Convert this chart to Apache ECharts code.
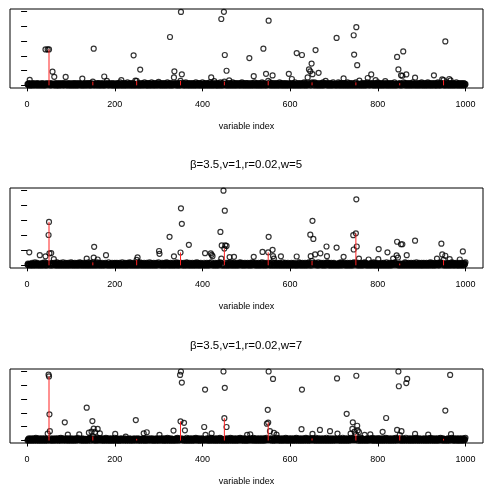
<!DOCTYPE html>
<html>
<head>
<meta charset="utf-8">
<script src="https://cdn.jsdelivr.net/npm/echarts@6.0.0/dist/echarts.min.js"></script>
<style>
html, body { margin: 0; padding: 0; background: #fff; }
#chart { width: 487px; height: 487px; }
</style>
</head>
<body>
<div id="chart"></div>
<script>
// near-zero band, one digit per variable index 1..1000 (value = digit * 0.04)
var base1 = [
  "2130412031 0214302113 2041320132 1024130213 0312420130 2140312031 1302413021 0413201324 1203142013 0213402130",
  "3120413021 4031203142 1302140231 0314201324 2031402132 1403121304 2130412023 1402130312 4021303142 1203140213",
  "0213041203 1520314021 3041203152 0214302130 4120318025 1302140312 0413201532 1042031402 1305213041 2031420136",
  "1402130412 0314021305 2130412031 4021503142 0312041302 1403120413 0521304120 3140213041 2031502143 0214031205",
  "2031402130 4120315021 3041207142 0130412031 5021403120 4130214031 2041302150 3140213042 1302140315 2041302140",
  "3140213041 2031402153 0214031204 1302150413 2031402130 4125031402 1304120314 0213052140 3120413021 4031206142",
  "0213402130 5120314021 3041203142 0513041203 1402130412 0314052130 4120314021 3041502314 0213041203 1402130512",
  "1302140315 2041302140 3120413021 5031402130 4120314021 3052130812 0314021304 1203150213 0412031402 1304120315",
  "4021304120 3140217304 1203140213 0412031502 1304120314 0213041253 1402130412 0314021305 2130412031 4021304125",
  "0314021304 1205314021 3041203142 0130415203 1402130412 0314025130 4120314021 3041203152 0214031204 1302140312"
].join(" ");
var base2 = [
  "1302413021 0412031503 2140213041 2031402135 0214031204 1302140312 0413021504 1203140213 0512031402 1304120315",
  "2041302140 3120413025 1403120413 0214031205 1302140312 0413021405 3120413021 4031203142 1302150231 0314201324",
  "3021403120 4130215031 2041302140 3125041302 1403120413 0214035120 4130214031 2041302150 3140213041 2031402135",
  "0413021403 1204130521 4031204130 2140312041 5302140312 0413021403 1205413021 4031204130 2140315204 1302140312",
  "1204130214 0312041305 2140312041 3021403125 0413021403 1204130214 0315204130 2140312041 3021453120 4130214031",
  "2140312041 3025140312 0413021403 1204153021 4031204130 2140312051 3021403120 4130214031 2051302140 3120413021",
  "3041203142 0130412035 1402130412 0314021304 1253041203 1402130412 0315021304 1203140213 0412531402 1304120314",
  "0312041302 1403152041 3021403120 4130214031 2041352140 3120413021 4031204135 2140312041 3021403125 0413021403",
  "1403120413 0214031205 1302140312 0413021453 1204130214 0312041302 1504130214 0312041302 1403120513 0214031204",
  "2031402130 4120314025 1304120314 0213041203 1452130412 0314021304 1203140251 3041203142 0130412031 4021304125"
].join(" ");
var base3 = [
  "0214031204 1302140315 2041302140 3120413021 4031205142 1302140231 0314201324 2031405132 1403121304 2130412023",
  "1402130312 4021353142 1203140213 0213041203 1452031402 1304120315 2041302140 3120413025 1403120413 0214031205",
  "2130412031 0214302113 2041720132 1024130213 0312420130 2140312031 1302413021 0413201324 1203142013 0213402130",
  "3041203142 0130412035 1402130412 0314021304 1253041203 1402130412 0315021304 1203140213 0412531402 1304120314",
  "1204130214 0312041305 2140312041 3021403125 0413021403 1204130214 0315204130 2140312041 3021453120 4130214031",
  "0312041302 1403152041 3021403120 4130214031 2041352140 3120413021 4031204135 2140312041 3021403125 0413021403",
  "2140312041 3025140312 0413021403 1204153021 4031204130 2140312051 3021403120 4130214031 2051302140 3120413021",
  "1403120413 0214031205 1302140312 0413021453 1204130214 0312041302 1504130214 0312041302 1403120513 0214031204",
  "0413021403 1204130521 4031204130 2140312041 5302140312 0413021403 1205413021 4031204130 2140315204 1302140312",
  "2031402130 4120314025 1304120314 0213041203 1452130412 0314021304 1203140251 3041203142 0130412031 4021304125"
].join(" ");

// points standing out of the band: [variable index, value]
var big1 = [[6,0.37],[42,2.44],[47,2.44],[50,2.44],[58,0.93],[62,0.58],[88,0.57],[126,0.46],[150,0.25],[152,2.49],
  [176,0.6],[182,0.3],[215,0.36],[243,2.04],[250,0.3],[258,1.07],[326,3.28],[335,0.54],[336,0.95],[350,0.3],
  [351,4.98],[353,0.75],[420,0.54],[443,4.5],[449,4.99],[450,0.25],[451,2.06],[455,0.99],[461,0.34],[507,1.85],
  [517,0.62],[539,2.49],[545,0.78],[550,0.3],[551,4.39],[560,0.67],[597,0.78],[604,0.43],[615,2.19],[627,2.06],
  [640,0.54],[643,1.08],[646,0.95],[649,1.48],[650,0.2],[651,0.76],[658,2.39],[665,0.85],[681,0.31],[706,3.22],
  [722,0.47],[745,3.4],[746,2.09],[750,0.2],[751,3.95],[753,1.37],[777,0.5],[785,0.74],[795,0.36],[844,1.93],
  [847,1.08],[850,0.15],[853,0.68],[856,0.65],[858,2.3],[865,0.74],[885,0.52],[928,0.68],[947,0.4],[950,0.35],
  [954,2.98],[963,0.43],[966,0.34]];
var big2 = [[5,0.87],[29,0.68],[42,0.6],[49,2.03],[50,2.91],[51,0.8],[55,0.82],[61,0.41],[136,0.45],[150,0.2],
  [152,0.52],[153,1.24],[161,0.39],[180,0.68],[250,0.36],[252,0.53],[301,0.96],[302,0.77],[325,1.91],[335,0.6],
  [350,0.86],[351,3.82],[353,2.78],[369,1.37],[406,0.81],[419,0.8],[421,0.7],[423,0.61],[441,2.24],[443,0.45],
  [444,1.33],[448,5.0],[450,1.12],[451,3.66],[452,1.34],[455,1.3],[462,0.55],[472,0.57],[517,0.57],[537,0.9],
  [550,0.87],[551,1.91],[560,1.04],[561,0.61],[563,0.45],[579,0.6],[615,0.59],[646,2.05],[647,0.61],[650,0.29],
  [651,2.98],[653,1.77],[657,0.73],[669,0.8],[683,1.26],[684,0.61],[706,1.19],[722,0.57],[744,2.02],[745,1.06],
  [750,2.14],[751,4.42],[752,1.26],[757,0.45],[779,0.39],[801,0.41],[802,1.09],[822,0.87],[835,0.45],[843,0.66],
  [844,1.58],[846,0.52],[850,0.12],[853,1.41],[856,1.41],[866,0.68],[885,1.65],[935,0.45],[945,1.45],[947,0.73],
  [950,0.36],[954,0.64],[964,0.41],[987,0.39],[994,0.93]];
var big3 = [[47,0.5],[49,4.77],[50,4.64],[51,1.9],[52,0.68],[86,1.32],[93,0.43],[119,0.45],[136,2.38],[141,0.57],
  [147,0.64],[149,1.41],[150,0.3],[152,0.86],[155,0.61],[161,0.84],[166,0.52],[201,0.48],[248,1.48],[250,0.12],
  [266,0.52],[273,0.6],[302,0.41],[334,0.72],[349,4.75],[350,1.39],[351,5.0],[353,4.2],[358,1.28],[360,0.74],
  [404,0.98],[406,3.69],[407,0.41],[421,0.52],[448,5.0],[450,1.62],[451,3.82],[455,0.98],[502,0.41],[509,0.45],
  [547,1.22],[549,2.22],[550,1.3],[551,5.0],[554,0.68],[561,4.46],[563,0.55],[569,0.43],[626,0.82],[627,3.69],
  [650,0.15],[651,0.48],[668,0.77],[691,0.68],[707,4.5],[708,0.5],[729,1.93],[738,0.5],[742,0.84],[743,1.32],
  [747,0.64],[750,0.45],[751,4.69],[753,1.07],[754,0.73],[757,0.61],[770,0.41],[783,0.45],[811,0.63],[819,1.63],
  [844,0.77],[847,5.0],[848,3.93],[850,0.4],[854,0.68],[865,4.16],[867,4.46],[885,0.48],[915,0.43],[950,0.12],
  [954,2.17],[965,4.75],[967,0.46]];

// true signal positions (red segments)
var sigIdx = [50, 150, 250, 350, 450, 550, 650, 750, 850, 950];
var xTicks = [0, 200, 400, 600, 800, 1000];
var yTicks = [0, 1, 2, 3, 4, 5];
var titles = ["", "β=3.5,v=1,r=0.02,w=5", "β=3.5,v=1,r=0.02,w=7"];

var FONT = "'Liberation Sans', Arial, sans-serif";

function buildValues(base, big) {
  var vals = base.replace(/\s+/g, "").split("").map(function (d) { return +d * 0.04; });
  big.forEach(function (p) { vals[p[0] - 1] = p[1]; });
  return vals.slice(0, 1000);
}

var panels = [buildValues(base1, big1), buildValues(base2, big2), buildValues(base3, big3)];
var gridTops = [9, 188, 369];
var gridHeights = [79, 80, 79];

var grids = [], xAxes = [], yAxes = [], series = [], graphics = [];
panels.forEach(function (vals, k) {
  grids.push({
    left: 10, right: 4, top: gridTops[k], height: gridHeights[k],
    show: true, borderColor: "#000", borderWidth: 1, backgroundColor: "transparent"
  });
  xAxes.push({
    gridIndex: k, type: "value", min: -38.96, max: 1039.96,
    axisLine: { show: false },
    axisTick: { show: true, customValues: xTicks, length: 6, lineStyle: { color: "#000", width: 1 } },
    axisLabel: {
      customValues: xTicks, color: "#000", fontSize: 9, fontFamily: FONT, margin: 12,
      formatter: function (v) { return String(v); }
    },
    splitLine: { show: false },
    name: "variable index", nameLocation: "middle", nameGap: 34,
    nameTextStyle: { color: "#000", fontSize: 9, fontFamily: FONT }
  });
  yAxes.push({
    gridIndex: k, type: "value", min: -0.18, max: 5.18,
    axisLine: { show: false },
    axisTick: { show: true, customValues: yTicks, length: 6, lineStyle: { color: "#000", width: 1 } },
    axisLabel: { show: false },
    splitLine: { show: false }
  });
  series.push({
    type: "scatter", xAxisIndex: k, yAxisIndex: k,
    symbol: "circle", symbolSize: 5,
    itemStyle: { color: "rgba(0,0,0,0)", borderColor: "#000", borderWidth: 1.2 },
    data: vals.map(function (v, i) { return [i + 1, v]; }),
    silent: true, z: 2
  });
  series.push({
    type: "custom", xAxisIndex: k, yAxisIndex: k, z: 3, silent: true,
    data: sigIdx.map(function (i) { return [i, vals[i - 1]]; }),
    renderItem: function (params, api) {
      var p0 = api.coord([api.value(0), 0]);
      var p1 = api.coord([api.value(0), api.value(1)]);
      return {
        type: "line",
        shape: { x1: p0[0], y1: p0[1], x2: p1[0], y2: p1[1] },
        style: { stroke: "#f22", lineWidth: 1 }
      };
    }
  });
  if (titles[k]) {
    graphics.push({
      type: "text", x: 246, y: gridTops[k] - 23,
      style: { text: titles[k], align: "center", verticalAlign: "middle", fill: "#000",
        font: "11.5px " + FONT }
    });
  }
});

var chart = echarts.init(document.getElementById("chart"), null, { renderer: "canvas" });
chart.setOption({
  animation: false,
  backgroundColor: "#fff",
  grid: grids,
  xAxis: xAxes,
  yAxis: yAxes,
  series: series,
  graphic: graphics
});
</script>
</body>
</html>
